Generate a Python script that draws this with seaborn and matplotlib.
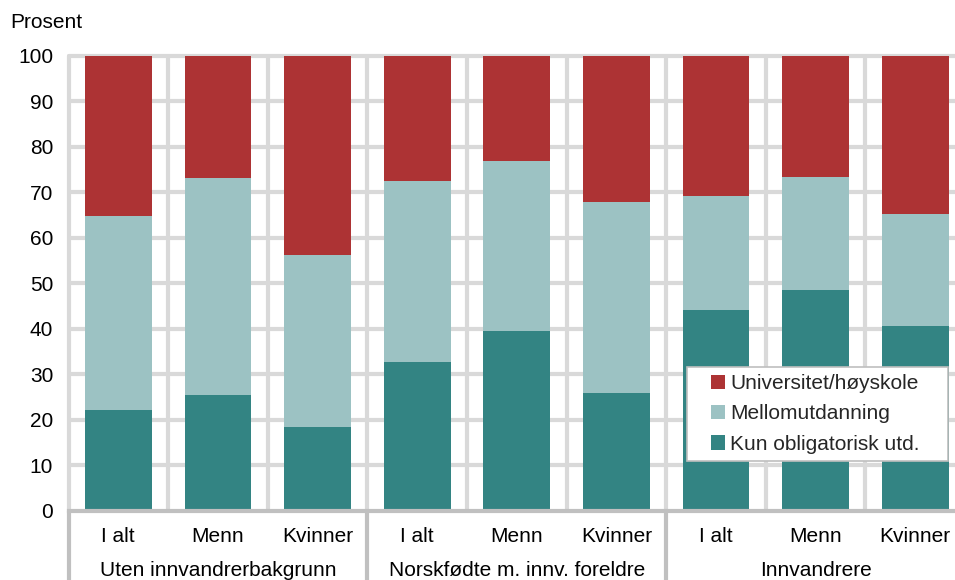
import matplotlib
matplotlib.use("Agg")
import matplotlib.pyplot as plt
import matplotlib.patches as mpatches
import matplotlib.transforms as mtransforms
import seaborn as sns
import numpy as np

# ---- data ----
groups = ["Uten innvandrerbakgrunn", "Norskfødte m. innv. foreldre", "Innvandrere"]
subcats = ["I alt", "Menn", "Kvinner"]
kun = [22.2, 25.5, 18.5, 32.8, 39.5, 25.9, 44.2, 48.6, 40.6]
mello = [42.6, 47.6, 37.6, 39.6, 37.3, 41.9, 24.9, 24.8, 24.7]
univ = [35.2, 26.9, 43.9, 27.6, 23.2, 32.2, 30.9, 26.6, 34.7]
series_names = ["Universitet/høyskole", "Mellomutdanning", "Kun obligatorisk utd."]
yticks = [0, 10, 20, 30, 40, 50, 60, 70, 80, 90, 100]

c_univ = "#ad3334"
c_mello = "#9cc2c3"
c_kun = "#338483"

sns.set_theme(style="white")
plt.rcParams["font.family"] = ["Liberation Sans", "DejaVu Sans"]
FS = 15

keys = [f"{g}|{s}" for g in groups for s in subcats]
kun_a = np.array(kun)
mid_a = kun_a + np.array(mello)
tot_a = mid_a + np.array(univ)

fig = plt.figure(figsize=(9.55, 5.8), dpi=100)
W, H = 955, 580
left_px, right_px, bot_px, top_px = 68.5, 965.0, 511.0, 55.5
ax = fig.add_axes([left_px / W, 1 - bot_px / H, (right_px - left_px) / W, (bot_px - top_px) / H])

bw = 0.67
sns.barplot(x=keys, y=list(tot_a), color=c_univ, saturation=1, width=bw, ax=ax, linewidth=0, zorder=3)
sns.barplot(x=keys, y=list(mid_a), color=c_mello, saturation=1, width=bw, ax=ax, linewidth=0, zorder=3)
sns.barplot(x=keys, y=list(kun_a), color=c_kun, saturation=1, width=bw, ax=ax, linewidth=0, zorder=3)

ax.set_xlim(-0.5, len(keys) - 0.5)
ax.set_ylim(0, 100)
ax.set_yticks(yticks)
ax.set_yticklabels([str(v) for v in yticks], fontsize=FS, color="#000000")
ax.set_xticks(range(len(keys)))
ax.set_xticklabels([s for g in groups for s in subcats], fontsize=FS, color="#000000")
ax.tick_params(axis="both", which="both", length=0)
ax.tick_params(axis="x", pad=11.5)
ax.tick_params(axis="y", pad=11)
ax.set_xlabel("")
ax.set_ylabel("")
ax.grid(False)

# gridlines (drawn unclipped so edge lines show fully)
for yv in yticks[1:]:
    ax.axhline(yv, color="#d9d9d9", linewidth=3, zorder=0.5, clip_on=False)
for xb in np.arange(-0.5, len(keys), 1.0):
    ax.axvline(xb, color="#d9d9d9", linewidth=3, zorder=0.5, clip_on=False)

for side in ["top", "right", "left"]:
    ax.spines[side].set_visible(False)
ax.spines["bottom"].set_color("#c0c0c0")
ax.spines["bottom"].set_linewidth(3)
ax.spines["bottom"].set_zorder(4)

# group separators below axis
trans = mtransforms.blended_transform_factory(ax.transData, fig.transFigure)
for xb in [-0.5, 2.5, 5.5, 8.5]:
    ax.plot([xb, xb], [1 - bot_px / H, 0], transform=trans, color="#c0c0c0",
            linewidth=3, clip_on=False, solid_capstyle="butt", zorder=4)

# group labels
for i, g in enumerate(groups):
    ax.text(i * 3 + 1, 1 - 570 / H, g, transform=trans, ha="center", va="center",
            fontsize=FS, color="#000000")

# y axis title
fig.text(10 / W, 1 - 23 / H, "Prosent", ha="left", va="center", fontsize=FS, color="#000000")

# legend frame (white box with grey border)
frame = mpatches.Rectangle((687 / W, 1 - 461 / H), (948 - 687) / W, (461 - 367) / H,
                           transform=fig.transFigure, facecolor="white", edgecolor="#bfbfbf",
                           linewidth=1.2, zorder=9)
fig.patches.append(frame)

# legend
handles = [mpatches.Patch(facecolor=c, edgecolor="none", label=n)
           for c, n in zip([c_univ, c_mello, c_kun], series_names)]
leg = fig.legend(handles=handles, loc="upper left", bbox_to_anchor=(711 / W, 1 - 374 / H),
                 bbox_transform=fig.transFigure, frameon=False, fontsize=FS, handlelength=0.68,
                 handleheight=0.68, handletextpad=0.25, labelspacing=0.55, borderpad=0,
                 borderaxespad=0)
leg.set_zorder(10)

fig.savefig("out.png", dpi=100)
